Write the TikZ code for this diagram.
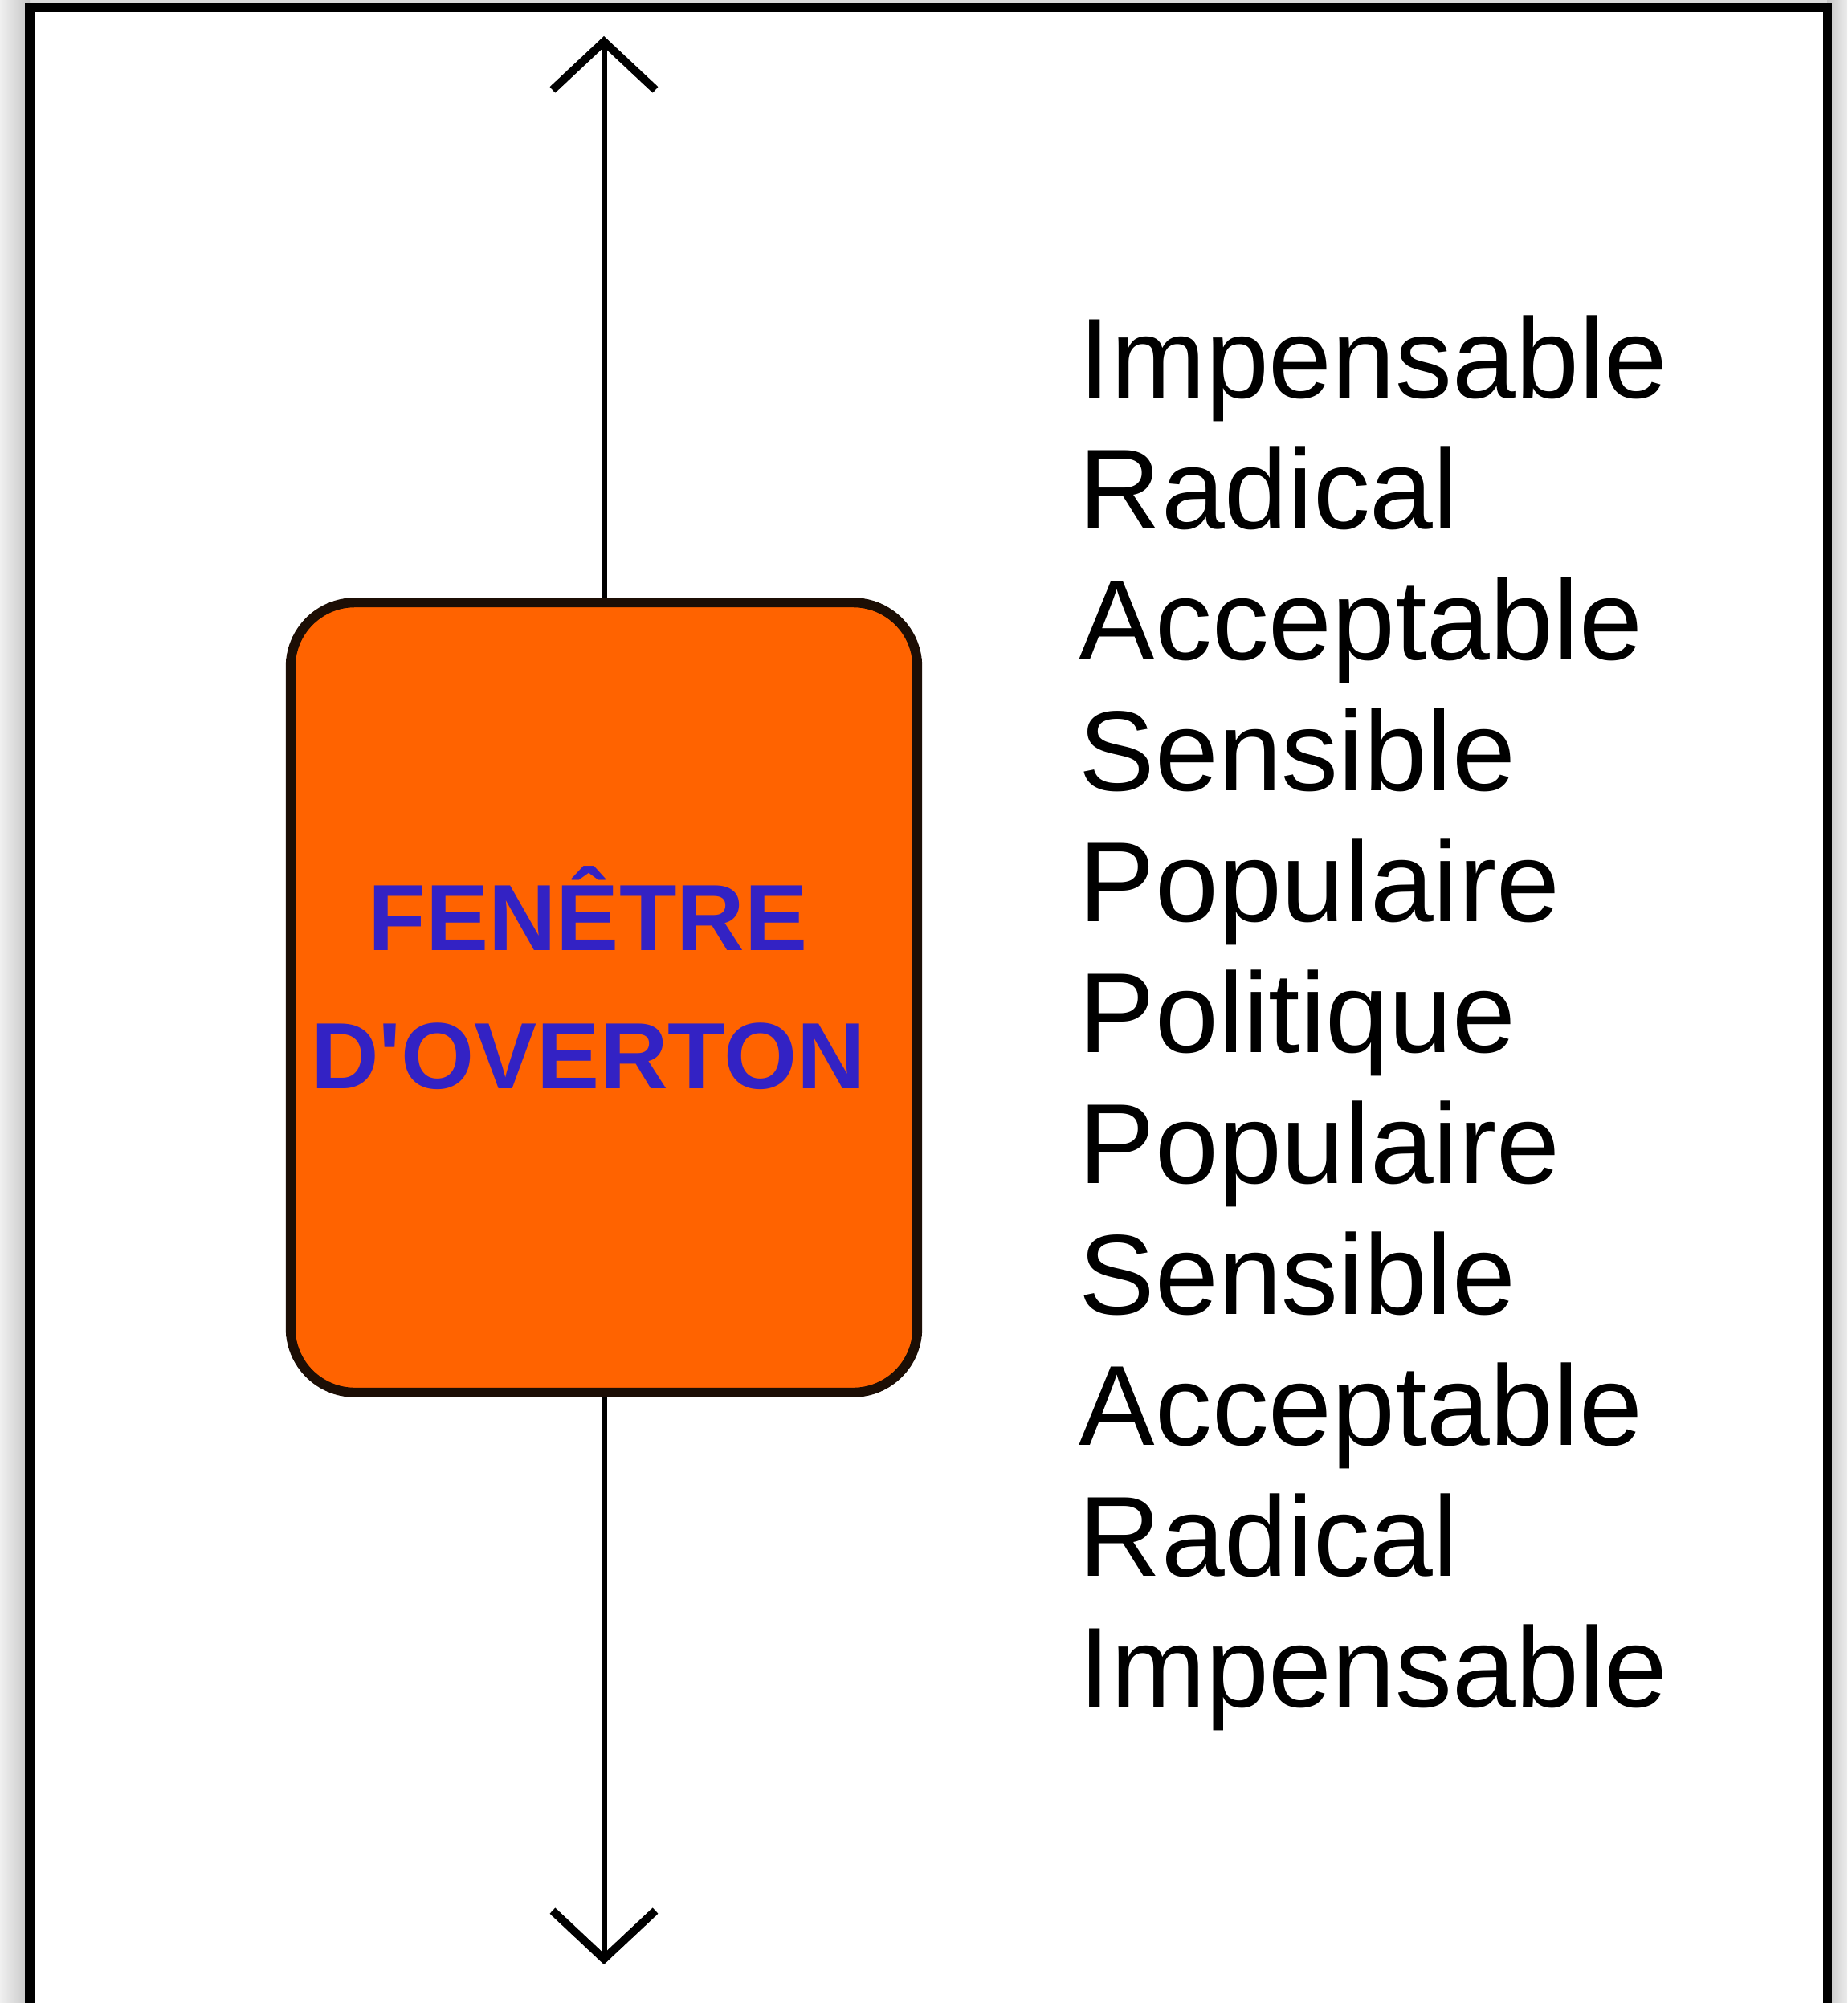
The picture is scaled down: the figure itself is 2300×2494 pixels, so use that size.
\documentclass[tikz,border=0pt]{standalone}
\usepackage{fontspec}
\setmainfont{Liberation Sans}
\usetikzlibrary{arrows.meta}
\definecolor{windoworange}{HTML}{FF6300}
\definecolor{windowblue}{HTML}{3322C4}
\definecolor{windowedge}{HTML}{1C0E05}

\begin{document}
\begin{tikzpicture}[x=0.01cm, y=-0.01cm,
  >={Straight Barb[length=0.6cm, width=1.28cm, line width=0.1cm]},
  level/.style={anchor=base west, inner sep=0pt, font=\fontsize{40.3}{46.4}\selectfont},
  windowbox/.style={draw=windowedge, line width=0.12cm, fill=windoworange, rounded corners=0.8cm, minimum width=7.8cm, minimum height=9.83cm},
  title/.style={align=center, inner sep=0pt, text=windowblue, font=\bfseries\fontsize{33.3}{48.9}\selectfont}]
  \useasboundingbox (0,0) rectangle (2300,2494);
  \fill[gray!28] (0,0) rectangle (2300,2494);
  \shade[left color=gray!12, right color=gray!45] (0,0) rectangle (37,2494);
  \shade[left color=gray!45, right color=gray!15] (2275,0) rectangle (2300,2494);
  \fill[white] (37,10) rectangle (2275,2510);
  \draw[line width=0.11cm] (37,2510) -- (37,10) -- (2275,10) -- (2275,2510);

  \node[windowbox] (window) at (752,1242) {};
  \node[title] (title) at (732,1218) {FENÊTRE\\D\textquotesingle OVERTON};
  \coordinate (uptip) at (752,45);
  \coordinate (downtip) at (752,2446);
  \draw[->, line width=0.07cm] (window.north) -- (uptip);
  \draw[->, line width=0.07cm] (window.south) -- (downtip);

  \foreach \word [count=\i] in {Impensable,Radical,Acceptable,Sensible,Populaire,Politique,Populaire,Sensible,Acceptable,Radical,Impensable}
    \node[level] (level\i) at (1343,{495+163*(\i-1)}) {\word};
\end{tikzpicture}
\end{document}
